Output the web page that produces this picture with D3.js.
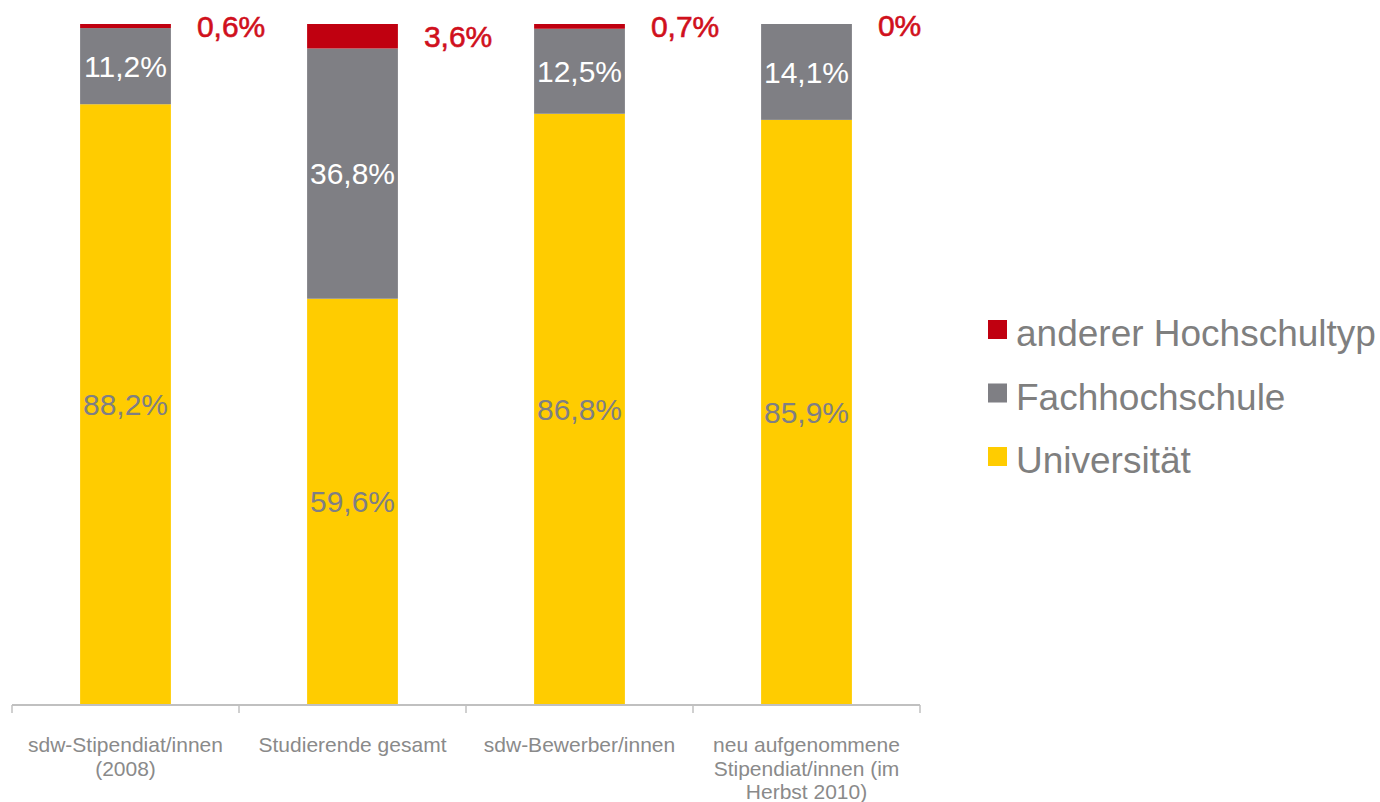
<!DOCTYPE html>
<html><head><meta charset="utf-8">
<script src="https://cdn.jsdelivr.net/npm/d3@7"></script>
<style>body{margin:0;background:#fff}svg{display:block}text{font-family:"Liberation Sans",Arial,sans-serif}</style>
</head><body><svg id="c" width="1380" height="802"></svg>
<script>
const categories = [["sdw-Stipendiat/innen","(2008)"],["Studierende gesamt"],["sdw-Bewerber/innen"],["neu aufgenommene","Stipendiat/innen (im","Herbst 2010)"]];
const universitaet = [88.2, 59.6, 86.8, 85.9];
const fachhochschule = [11.2, 36.8, 12.5, 14.1];
const andere = [0.6, 3.6, 0.7, 0];
const seriesNames = ["Universität","Fachhochschule","anderer Hochschultyp"];
const colors = ["#FFCC00","#7F7F84","#C00010"];
const fmt = v => String(v).replace(".", ",") + "%";

const svg = d3.select("#c");
const x = d3.scaleBand().domain(d3.range(categories.length)).range([12, 920]).paddingInner(0.6).paddingOuter(0.3);
const y = d3.scaleLinear().domain([0, 100]).range([704, 24]);
const step = x.step();
const series = [universitaet, fachhochschule, andere];

const data = categories.map((c, i) => ({i, vals: series.map(s => s[i])}));
data.forEach(d => {
  let acc = 0;
  d.segs = d.vals.map((v, k) => { const s = {k, v, y0: acc, y1: acc + v}; acc += v; return s; });
});

const g = svg.append("g");
data.forEach(d => {
  const bx = x(d.i);
  d.segs.forEach(s => {
    if (s.v <= 0) return;
    g.append("rect").attr("x", bx).attr("width", x.bandwidth())
      .attr("y", y(s.y1)).attr("height", y(s.y0) - y(s.y1)).attr("fill", colors[s.k]);
  });
  const u = d.segs[0], f = d.segs[1], a = d.segs[2];
  g.append("text").attr("x", bx + x.bandwidth()/2).attr("y", (y(u.y0)+y(u.y1))/2).attr("dy","0.36em")
    .attr("text-anchor","middle").attr("font-size", 30).attr("fill","#7f7f84").text(fmt(u.v));
  g.append("text").attr("x", bx + x.bandwidth()/2).attr("y", (y(f.y0)+y(f.y1))/2).attr("dy","0.36em")
    .attr("text-anchor","middle").attr("font-size", 30).attr("fill","#ffffff").text(fmt(f.v));
  g.append("text").attr("x", bx + x.bandwidth() + 26).attr("y", Math.max((y(a.y0)+y(a.y1))/2, 25)).attr("dy","0.36em")
    .attr("text-anchor","start").attr("font-size", 30).attr("fill","#d0101c")
    .attr("stroke","#d0101c").attr("stroke-width",0.6).text(fmt(a.v));
});

// axis
const ax = svg.append("g");
ax.append("line").attr("x1", 12).attr("x2", 920).attr("y1", 705).attr("y2", 705).attr("stroke","#c0c0c0").attr("stroke-width",2);
d3.range(categories.length + 1).forEach(i => {
  const tx = 12 + i * step;
  ax.append("line").attr("x1", tx).attr("x2", tx).attr("y1", 705).attr("y2", 713).attr("stroke","#c0c0c0").attr("stroke-width",1.5);
});
categories.forEach((lines, i) => {
  const t = ax.append("text").attr("x", x(i) + x.bandwidth()/2).attr("y", 752).attr("text-anchor","middle")
    .attr("font-size", 21).attr("fill","#8a8a8a");
  lines.forEach((l, j) => t.append("tspan").attr("x", x(i) + x.bandwidth()/2).attr("dy", j ? 23.5 : 0).text(l));
});

// legend
const leg = svg.append("g");
[2,1,0].forEach((k, r) => {
  const ly = 333 + r * 63.5;
  leg.append("rect").attr("x", 988).attr("y", ly - 13).attr("width", 19).attr("height", 19).attr("fill", colors[k]);
  leg.append("text").attr("x", 1016).attr("y", ly).attr("dy","0.36em").attr("font-size", 37).attr("fill","#7f7f7f").text(seriesNames[k]);
});
</script></body></html>
